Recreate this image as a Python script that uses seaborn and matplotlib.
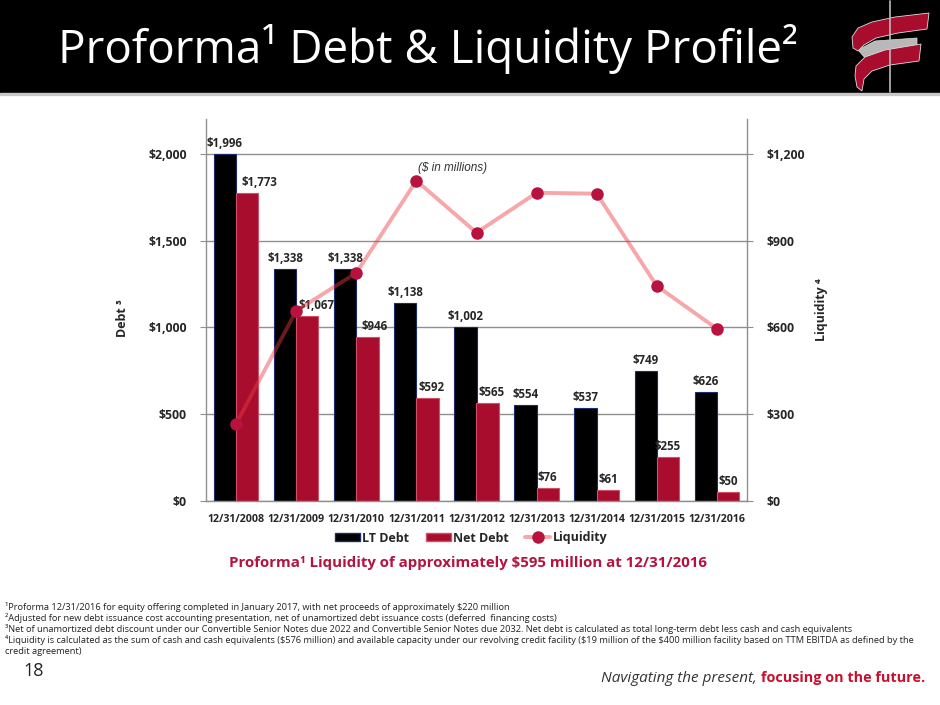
import matplotlib
matplotlib.use("Agg")
import numpy as np
import pandas as pd
import matplotlib.pyplot as plt
import seaborn as sns
from matplotlib.patches import Patch, Rectangle, Polygon
from matplotlib.lines import Line2D

# data ($ in millions)
dates = ["12/31/2008", "12/31/2009", "12/31/2010", "12/31/2011", "12/31/2012",
         "12/31/2013", "12/31/2014", "12/31/2015", "12/31/2016"]
lt_debt = [1996, 1338, 1338, 1138, 1002, 554, 537, 749, 626]
net_debt = [1773, 1067, 946, 592, 565, 76, 61, 255, 50]
liquidity = [266, 657, 788, 1107, 927, 1065, 1062, 743, 595]
debt_ticks = [0, 500, 1000, 1500, 2000]
liq_ticks = [0, 300, 600, 900, 1200]

footnotes = [
    "\u00b9Proforma 12/31/2016 for equity offering completed in January 2017, with net proceeds of approximately $220 million",
    "\u00b2Adjusted for new debt issuance cost accounting presentation, net of unamortized debt issuance costs (deferred  financing costs)",
    "\u00b3Net of unamortized debt discount under our Convertible Senior Notes due 2022 and Convertible Senior Notes due 2032. Net debt is calculated as total long-term debt less cash and cash equivalents",
    "\u2074Liquidity is calculated as the sum of cash and cash equivalents ($576 million) and available capacity under our revolving credit facility ($19 million of the $400 million facility based on TTM EBITDA as defined by the",
    "credit agreement)",
]

df = pd.DataFrame({
    "date": dates * 2,
    "series": ["LT Debt"] * len(dates) + ["Net Debt"] * len(dates),
    "value": lt_debt + net_debt,
})

sns.set_style("white")
plt.rcParams["font.family"] = ["Open Sans", "DejaVu Sans"]

W, H = 940, 705
fig = plt.figure(figsize=(9.4, 7.05), dpi=100)

def fx(px):
    return px / W

def fy(py):
    return 1 - py / H

RED = "#A80D2E"
GRID = "#8f8f8f"

# header band (below the axes so the logo shows)
fig.patches.append(Rectangle((0, fy(93)), 1, 93 / H, transform=fig.transFigure, color="black", zorder=-2))
fig.patches.append(Rectangle((0, fy(95)), 1, 2 / H, transform=fig.transFigure, color="#c8c8c8", zorder=-2))
fig.text(fx(58), fy(63), "Proforma\u00b9 Debt & Liquidity Profile\u00b2", color="white",
         fontsize=33, va="baseline", ha="left")

# logo (rough)
lg = fig.add_axes([fx(845), fy(93), 90 / W, 93 / H])
lg.set_xlim(845, 935)
lg.set_ylim(93, 0)
lg.axis("off")
lg.plot([890, 890], [1, 92], color="#bbbbbb", lw=1.2)
lg.add_patch(Polygon([(858, 50), (875, 41), (917, 38), (917, 50), (885, 53), (866, 59)],
                     closed=True, facecolor="#b8b8b8", edgecolor="#dddddd", lw=0.5))
lg.add_patch(Polygon([(852, 37), (858, 28), (872, 22), (895, 17), (929, 13), (927, 29), (898, 33),
                      (876, 38), (864, 45), (858, 51), (853, 48)],
                     closed=True, facecolor=RED, edgecolor="#dddddd", lw=0.6))
lg.add_patch(Polygon([(856, 66), (865, 57), (885, 50), (921, 44), (919, 61), (890, 65), (872, 71),
                      (864, 79), (862, 91), (857, 87), (855, 76)],
                     closed=True, facecolor=RED, edgecolor="#dddddd", lw=0.6))

# main chart
ax = fig.add_axes([fx(206), fy(501), (747 - 206) / W, (501 - 119) / H])
sns.barplot(data=df, x="date", y="value", hue="series", ax=ax, width=0.74,
            palette={"LT Debt": "black", "Net Debt": RED}, saturation=1, legend=False)
for bar in ax.containers[0]:
    bar.set_edgecolor("#1c2a6e")
    bar.set_linewidth(0.8)
for bar in ax.containers[1]:
    bar.set_edgecolor("#d0506a")
    bar.set_linewidth(0.8)

ax.set_ylim(0, 2200)
ax.set_xlim(-0.5, len(dates) - 0.5)
ax.set_yticks(debt_ticks)
ax.set_yticklabels([f"${v:,}" for v in debt_ticks], fontsize=8.8, fontweight="bold")
ax.set_xticks(range(len(dates)))
ax.set_xticklabels(dates, fontsize=7.7, fontweight="bold")
ax.set_xticks(np.arange(-0.5, len(dates), 1), minor=True)
ax.tick_params(axis="x", which="major", length=0, pad=9)
ax.tick_params(axis="x", which="minor", length=4, color=GRID, direction="out")
ax.tick_params(axis="y", length=4, color=GRID, direction="out", pad=10, left=True)
ax.yaxis.grid(True, color=GRID, lw=1)
ax.set_axisbelow(True)
for s in ["left", "right", "bottom"]:
    ax.spines[s].set_color(GRID)
    ax.spines[s].set_linewidth(1)
ax.spines["top"].set_visible(False)
ax.set_xlabel("")
ax.set_ylabel("")

# value labels
net_shift = [9, 6.5, 5, 3, 3, 0, 0, 0, 0]
ax.bar_label(ax.containers[0], labels=[f"${v:,}" for v in lt_debt], padding=3,
             fontsize=8.3, fontweight="bold")
net_labels = ax.bar_label(ax.containers[1], labels=[f"${v:,}" for v in net_debt], padding=3,
                          fontsize=8.3, fontweight="bold")
for t, dx in zip(net_labels, net_shift):
    t.xyann = (dx, t.xyann[1])

# liquidity on the right axis
ax2 = ax.twinx()
ax2.set_ylim(0, 1320)
ax2.set_yticks(liq_ticks)
ax2.set_yticklabels([f"${v:,}" for v in liq_ticks], fontsize=8.8, fontweight="bold")
ax2.tick_params(axis="y", length=4, color=GRID, direction="out", pad=10, right=True)
for s in ax2.spines.values():
    s.set_visible(False)
xs = np.arange(len(dates))
ax2.plot(xs, liquidity, color="#EE3B40", alpha=0.45, lw=2.8, solid_capstyle="round")
ax2.plot(xs, liquidity, ls="none", marker="o", ms=8, color="#B8123F")

fig.text(fx(122), fy(318), "Debt \u00b3", rotation=90, ha="center", va="center",
         fontsize=9, fontweight="bold")
fig.text(fx(821), fy(310), "Liquidity \u2074", rotation=90, ha="center", va="center",
         fontsize=9, fontweight="bold")
fig.text(fx(452), fy(168), "($ in millions)", ha="center", va="center", fontsize=8.5,
         style="italic", color="#333333", family="Liberation Sans", parse_math=False)

# legend
line_h = Line2D([], [], color="#EE3B40", alpha=0.45, lw=2.8)
mark_h = Line2D([], [], ls="none", marker="o", ms=8, color="#B8123F")
handles = [Patch(facecolor="black", edgecolor="#1c2a6e"), Patch(facecolor=RED, edgecolor="#d0506a"),
           (line_h, mark_h)]
fig.legend(handles, ["LT Debt", "Net Debt", "Liquidity"], loc="center",
           bbox_to_anchor=(fx(471), fy(538)), ncol=3, frameon=False,
           prop={"weight": "bold", "size": 9}, handlelength=2.0, handleheight=0.6,
           handletextpad=0.2, columnspacing=1.3)

fig.text(fx(468), fy(563), "Proforma\u00b9 Liquidity of approximately $595 million at 12/31/2016",
         ha="center", va="center", fontsize=10.8, fontweight="bold", color="#B5123E",
         parse_math=False)

# footnotes
for i, line in enumerate(footnotes):
    fig.text(fx(5), fy(607 + 11 * i), line, ha="left", va="center", fontsize=6.7,
             color="#222222", parse_math=False)

fig.text(fx(23), fy(671), "18", ha="left", va="center", fontsize=13, color="#222222")

tail = fig.text(fx(925), fy(678), "focusing on the future.", ha="right", va="center",
                fontsize=10.4, fontweight="bold", color="#C8102E")
ax.annotate("Navigating the present, ", xy=(0, 0.5), xycoords=tail, ha="right", va="center",
            fontsize=11, style="italic", color="#333333", annotation_clip=False)

fig.savefig("out.png", dpi=100)
